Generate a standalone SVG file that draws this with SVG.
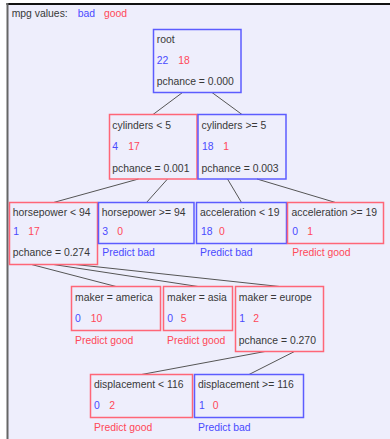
<svg xmlns="http://www.w3.org/2000/svg" width="390" height="439" viewBox="0 0 390 439">
<style>
text{font-family:"Liberation Sans",Arial,sans-serif;font-size:10.4px;fill:#383838}
.b{fill:#4a4aff}
.r{fill:#ff4858}
.nb{fill:none;stroke:#5c5cff;stroke-width:1.5}
.nr{fill:none;stroke:#ff6677;stroke-width:1.5}
#edges line{stroke:#555;stroke-width:1}
</style>
<rect x="0" y="0" width="390" height="439" fill="#ffffff"/>
<rect x="8" y="5" width="382" height="434" fill="#eeeefc"/>
<rect x="6.5" y="3" width="383.5" height="2" fill="#111"/>
<rect x="6.5" y="3" width="2" height="436" fill="#666"/>
<g id="legend">
<text x="11.7" y="17">mpg values:</text>
<text x="77.7" y="17" class="b">bad</text>
<text x="104" y="17" class="r">good</text>
</g>
<g id="edges">
<line x1="182.5" y1="92.5" x2="153" y2="114.5"/>
<line x1="212" y1="92.5" x2="242" y2="114.5"/>
<line x1="138.5" y1="179" x2="53.5" y2="202.5"/>
<line x1="167.5" y1="179" x2="146.5" y2="202.5"/>
<line x1="227.5" y1="179" x2="241.5" y2="202.5"/>
<line x1="257" y1="179" x2="335.5" y2="202.5"/>
<line x1="31.5" y1="264.5" x2="116" y2="286.5"/>
<line x1="53.5" y1="264.5" x2="198" y2="286.5"/>
<line x1="75.5" y1="264.5" x2="279.5" y2="286.5"/>
<line x1="265" y1="351.5" x2="141.5" y2="374.5"/>
<line x1="294.5" y1="351.5" x2="249" y2="374.5"/>
</g>
<g id="root">
<rect x="153.5" y="29.5" width="87.5" height="63" class="nb"/>
<text x="156.7" y="43.3">root</text>
<text x="156.7" y="64" class="b">22</text><text x="178.3" y="64" class="r">18</text>
<text x="156.7" y="85">pchance = 0.000</text>
</g>
<g id="cyl_lt5">
<rect x="109.5" y="114.5" width="87.5" height="64.5" class="nr"/>
<text x="112.3" y="129">cylinders &lt; 5</text>
<text x="112.3" y="150" class="b">4</text><text x="128.3" y="150" class="r">17</text>
<text x="112.3" y="172">pchance = 0.001</text>
</g>
<g id="cyl_ge5">
<rect x="198" y="114.5" width="88" height="64.5" class="nb"/>
<text x="201.5" y="129">cylinders &gt;= 5</text>
<text x="202" y="150" class="b">18</text><text x="223.3" y="150" class="r">1</text>
<text x="201.5" y="172">pchance = 0.003</text>
</g>
<g id="hp_lt94">
<rect x="9.5" y="202.5" width="88" height="62" class="nr"/>
<text x="12.8" y="216">horsepower &lt; 94</text>
<text x="13.3" y="234.5" class="b">1</text><text x="28.3" y="234.5" class="r">17</text>
<text x="12.8" y="256">pchance = 0.274</text>
</g>
<g id="hp_ge94">
<rect x="98.5" y="202.5" width="95.5" height="41" class="nb"/>
<text x="101.7" y="216">horsepower &gt;= 94</text>
<text x="102.3" y="234.5" class="b">3</text><text x="117.3" y="234.5" class="r">0</text>
<text x="102.3" y="256" class="b">Predict bad</text>
</g>
<g id="acc_lt19">
<rect x="196.5" y="202.5" width="90" height="41" class="nb"/>
<text x="200" y="216">acceleration &lt; 19</text>
<text x="201" y="234.5" class="b">18</text><text x="219" y="234.5" class="r">0</text>
<text x="200" y="256" class="b">Predict bad</text>
</g>
<g id="acc_ge19">
<rect x="287.5" y="202.5" width="96" height="41" class="nr"/>
<text x="291.5" y="216">acceleration &gt;= 19</text>
<text x="292.3" y="234.5" class="b">0</text><text x="307.3" y="234.5" class="r">1</text>
<text x="292.3" y="256" class="r">Predict good</text>
</g>
<g id="maker_america">
<rect x="71.5" y="286.5" width="89" height="44" class="nr"/>
<text x="75" y="300.7">maker = america</text>
<text x="75" y="321.7" class="b">0</text><text x="90.7" y="321.7" class="r">10</text>
<text x="75" y="344" class="r">Predict good</text>
</g>
<g id="maker_asia">
<rect x="163.5" y="286.5" width="69" height="44" class="nr"/>
<text x="167" y="300.7">maker = asia</text>
<text x="167.3" y="321.7" class="b">0</text><text x="180.7" y="321.7" class="r">5</text>
<text x="167" y="344" class="r">Predict good</text>
</g>
<g id="maker_europe">
<rect x="235.5" y="286.5" width="88" height="65" class="nr"/>
<text x="238.8" y="300.7">maker = europe</text>
<text x="239.3" y="321.7" class="b">1</text><text x="253.3" y="321.7" class="r">2</text>
<text x="238.8" y="344">pchance = 0.270</text>
</g>
<g id="disp_lt116">
<rect x="90.5" y="374.5" width="102" height="43" class="nr"/>
<text x="94" y="387.5">displacement &lt; 116</text>
<text x="94" y="408.5" class="b">0</text><text x="109.3" y="408.5" class="r">2</text>
<text x="94" y="431" class="r">Predict good</text>
</g>
<g id="disp_ge116">
<rect x="194.5" y="374.5" width="109" height="43" class="nb"/>
<text x="198" y="387.5">displacement &gt;= 116</text>
<text x="199" y="408.5" class="b">1</text><text x="212.7" y="408.5" class="r">0</text>
<text x="198" y="431" class="b">Predict bad</text>
</g>
</svg>
